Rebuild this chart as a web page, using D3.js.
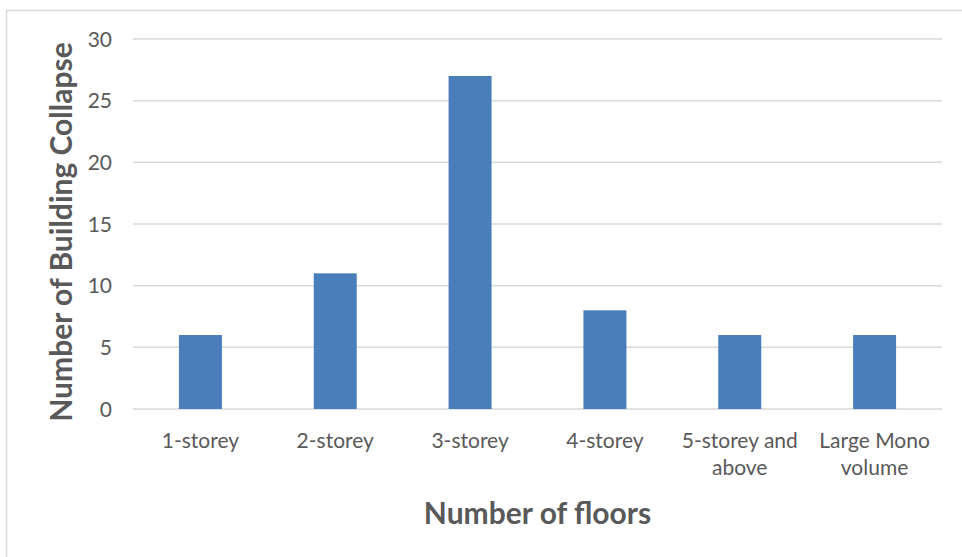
<!DOCTYPE html>
<html>
<head>
    <script src="https://d3js.org/d3.v7.min.js"></script>
    <style>
        body { margin: 0; background: #fff; }
        text { font-family: Lato, "Open Sans", sans-serif; fill: #595959; }
        .grid line { stroke: #d9d9d9; stroke-width: 1.5px; }
    </style>
</head>
<body>
    <svg width="962" height="557"></svg>
    <script>
        const categories = [["1-storey"], ["2-storey"], ["3-storey"], ["4-storey"], ["5-storey and", "above"], ["Large Mono", "volume"]];
        const values = [6, 11, 27, 8, 6, 6];
        const yTicks = [0, 5, 10, 15, 20, 25, 30];

        const svg = d3.select("svg");
        const mLeft = 133, mRight = 942, mTop = 39, mBottom = 409;

        // chart frame (top and left edges visible)
        svg.append("path")
            .attr("d", "M6.5,557 V10.5 H962")
            .attr("fill", "none").attr("stroke", "#d9d9d9").attr("stroke-width", 1.5);

        const x = d3.scaleBand().domain(categories.map((d, i) => i)).range([mLeft, mRight]);
        const y = d3.scaleLinear().domain([0, 30]).range([mBottom, mTop]);

        const grid = svg.append("g").attr("class", "grid");
        grid.selectAll("line").data(yTicks).join("line")
            .attr("x1", mLeft).attr("x2", mRight)
            .attr("y1", d => y(d)).attr("y2", d => y(d));

        svg.append("g").selectAll("text").data(yTicks).join("text")
            .attr("x", 112).attr("y", d => y(d) + 7.5)
            .attr("text-anchor", "end").attr("font-size", 21)
            .text(d => d);

        const bw = 43;
        svg.append("g").selectAll("rect").data(values).join("rect")
            .attr("x", (d, i) => x(i) + x.bandwidth() / 2 - bw / 2)
            .attr("y", d => y(d))
            .attr("width", bw)
            .attr("height", d => y(0) - y(d))
            .attr("fill", "#4a7ebb");

        const lab = svg.append("g").selectAll("text").data(categories).join("text")
            .attr("text-anchor", "middle").attr("font-size", 21);
        lab.each(function(d, i) {
            d3.select(this).selectAll("tspan").data(d).join("tspan")
                .attr("x", x(i) + x.bandwidth() / 2)
                .attr("y", (t, j) => 448 + j * 27)
                .text(t => t);
        });

        svg.append("text")
            .attr("x", (mLeft + mRight) / 2).attr("y", 524)
            .attr("text-anchor", "middle").attr("font-size", 30).attr("font-weight", "bold")
            .text("Number of floors");

        svg.append("text")
            .attr("transform", "translate(72,232) rotate(-90)")
            .attr("text-anchor", "middle").attr("font-size", 30).attr("font-weight", "bold")
            .text("Number of Building Collapse");
    </script>
</body>
</html>
